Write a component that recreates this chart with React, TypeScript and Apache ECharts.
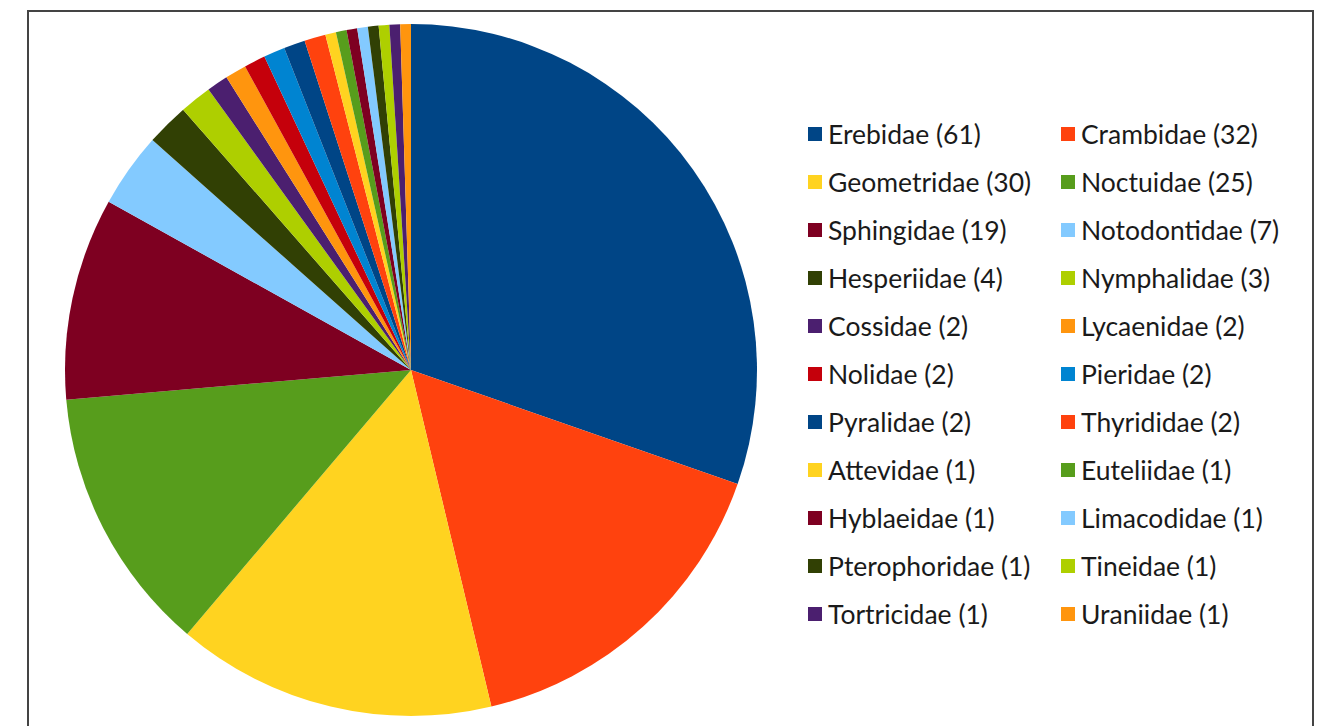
import React, { useEffect, useRef } from "react";
import * as echarts from "echarts";

const families: string[] = [
  "Erebidae", "Crambidae", "Geometridae", "Noctuidae", "Sphingidae", "Notodontidae",
  "Hesperiidae", "Nymphalidae", "Cossidae", "Lycaenidae", "Nolidae", "Pieridae",
  "Pyralidae", "Thyrididae", "Attevidae", "Euteliidae", "Hyblaeidae", "Limacodidae",
  "Pterophoridae", "Tineidae", "Tortricidae", "Uraniidae",
];
const counts: number[] = [61, 32, 30, 25, 19, 7, 4, 3, 2, 2, 2, 2, 2, 2, 1, 1, 1, 1, 1, 1, 1, 1];
const palette: string[] = [
  "#004586", "#ff420e", "#ffd320", "#579d1c", "#7e0021", "#83caff",
  "#314004", "#aecf00", "#4b1f6f", "#ff950e", "#c5000b", "#0084d1",
];

export default function App() {
  const ref = useRef<HTMLDivElement>(null);
  useEffect(() => {
    if (!ref.current) return;
    const chart = echarts.init(ref.current, undefined, { renderer: "svg" });
    const countMap: Record<string, number> = {};
    families.forEach((f, i) => (countMap[f] = counts[i]));
    const col1 = families.filter((_, i) => i % 2 === 0);
    const col2 = families.filter((_, i) => i % 2 === 1);
    const legendBase = {
      orient: "vertical" as const,
      top: 115,
      itemWidth: 14,
      itemHeight: 14,
      itemGap: 20,
      icon: "rect",
      selectedMode: false,
      formatter: (n: string) => `${n} (${countMap[n]})`,
      textStyle: {
        fontFamily: "Lato",
        fontSize: 26.5,
        color: "#1a1a1a",
        lineHeight: 28,
        padding: [0, 0, 0, 1],
      },
    };
    chart.setOption({
      animation: false,
      color: palette,
      legend: [
        { ...legendBase, left: 803, data: col1 },
        { ...legendBase, left: 1056, data: col2 },
      ],
      graphic: [
        {
          type: "rect",
          shape: { x: 28, y: 11, width: 1285, height: 740 },
          style: { fill: "none", stroke: "#444", lineWidth: 2 },
          silent: true,
        },
      ],
      series: [
        {
          type: "pie",
          center: [411, 370],
          radius: 346,
          startAngle: 90,
          clockwise: true,
          label: { show: false },
          labelLine: { show: false },
          emphasis: { disabled: true },
          itemStyle: { borderWidth: 0 },
          data: families.map((f, i) => ({ name: f, value: counts[i] })),
        },
      ],
    });
    return () => chart.dispose();
  }, []);
  return (
    <div
      ref={ref}
      style={{ position: "fixed", left: 0, top: 0, width: 1329, height: 726, background: "#fff" }}
    />
  );
}
